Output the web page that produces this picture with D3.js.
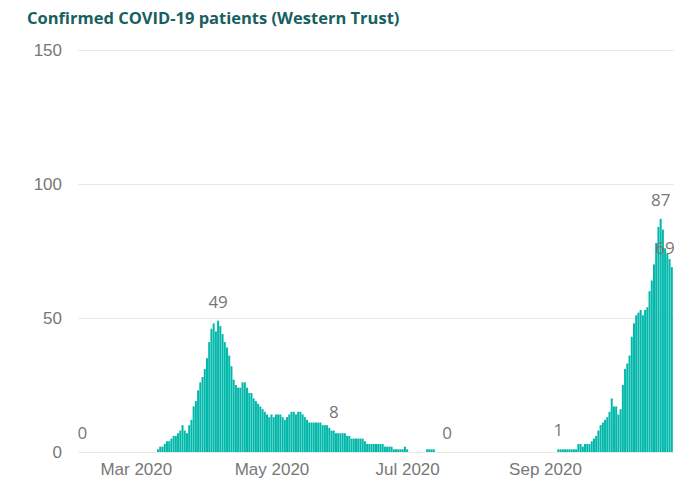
<!DOCTYPE html>
<meta charset="utf-8">
<style>
body {
  margin: 0;
  background: #fff;
}
svg {
  display: block;
  font-family: "Open Sans", "Noto Sans", sans-serif;
}
.title {
  font-weight: bold;
  font-size: 16.5px;
  fill: #17605f;
}
.axis text {
  fill: #777;
  font-size: 17px;
}
.axis .domain {
  display: none;
}
.grid line {
  stroke: #e9e9e9;
}
.bars rect {
  fill: #01b8aa;
}
.labels text {
  fill: #777;
  font-size: 17px;
  text-anchor: middle;
}
</style>
<svg width="674" height="482"></svg>
<script src="https://d3js.org/d3.v7.min.js"></script>
<script>

// daily values, one per day starting at firstDay
const firstDay = "2020-02-06";
const patients = [
  0,0,0,0,0,0,0,0,0,0,0,0,0,0,0,0,0,0,0,0,0,0,0,0,0,0,0,0,0,0,0,0,0,0,
  1,2,2,3,4,4,5,6,6,7,8,10,8,7,10,12,17,19,23,26,28,31,35,41,46,48,45,49,47,44,41,39,36,32,
  27,25,24,24,26,26,24,22,22,20,19,18,
  17,16,15,14,13,14,13,14,14,14,13,12,13,14,15,15,14,15,
  15,14,13,12,11,11,11,11,11,11,10,10,10,9,8,8,
  7,7,7,7,7,6,6,5,5,5,5,5,5,4,
  3,3,3,3,3,3,3,3,
  2,2,2,2,
  1,1,1,1,1,2,1,
  0,0,0,0,0,0,0,0,
  1,1,1,1,
  0,0,0,0,0,0,0,0,0,0,0,0,0,0,0,0,0,0,0,0,0,0,0,0,0,0,0,0,0,0,0,0,0,0,0,0,0,0,0,0,0,0,0,0,0,0,0,0,0,0,0,0,0,0,0,
  1,1,1,1,1,1,1,1,1,
  3,3,2,3,3,3,
  4,5,6,8,10,11,12,13,15,20,17,17,14,16,
  25,31,33,36,43,48,51,52,53,51,53,54,
  60,64,70,78,84,87,83,76,74,72,69
];

const labelDates = ["2020-02-06", "2020-04-07", "2020-05-29", "2020-07-19", "2020-09-07", "2020-10-23", "2020-10-28"];
const xTicks = ["2020-03-01", "2020-05-01", "2020-07-01", "2020-09-01"];
const yTicks = [0, 50, 100, 150];

const parse = d3.utcParse("%Y-%m-%d");
const start = parse(firstDay);
const data = patients.map((v, i) => ({ date: d3.utcDay.offset(start, i), value: v }));

const svg = d3.select("svg");
const plotLeft = 78, plotRight = 674, plotTop = 50, plotBottom = 452;

const x = d3.scaleUtc()
  .domain([parse("2020-02-04"), parse("2020-10-29")])
  .range([plotLeft, plotRight]);

const y = d3.scaleLinear()
  .domain([0, 150])
  .range([plotBottom, plotTop]);

svg.append("text")
  .attr("class", "title")
  .attr("x", 27)
  .attr("y", 24)
  .text("Confirmed COVID-19 patients (Western Trust)");

svg.append("g")
  .attr("class", "axis grid")
  .attr("transform", `translate(${plotLeft},0)`)
  .call(d3.axisLeft(y).tickValues(yTicks).tickSize(-(plotRight - plotLeft)).tickPadding(16));

svg.append("g")
  .attr("class", "axis")
  .attr("transform", `translate(0,${plotBottom})`)
  .call(d3.axisBottom(x)
    .tickValues(xTicks.map(parse))
    .tickFormat(d3.utcFormat("%b %Y"))
    .tickSize(0)
    .tickPadding(11));

const step = x(d3.utcDay.offset(start, 1)) - x(start);
const bw = step * 0.9;

svg.append("g")
  .attr("class", "bars")
  .selectAll("rect")
  .data(data.filter(d => d.value > 0))
  .join("rect")
    .attr("x", d => x(d.date) - bw / 2)
    .attr("width", bw)
    .attr("y", d => y(d.value))
    .attr("height", d => y(0) - y(d.value));

const labelled = labelDates.map(s => data.find(d => +d.date === +parse(s)));

svg.append("g")
  .attr("class", "labels")
  .selectAll("text")
  .data(labelled)
  .join("text")
    .attr("x", d => Math.min(x(d.date), plotRight - 9))
    .attr("y", d => y(d.value) - 13)
    .text(d => d.value);

</script>
